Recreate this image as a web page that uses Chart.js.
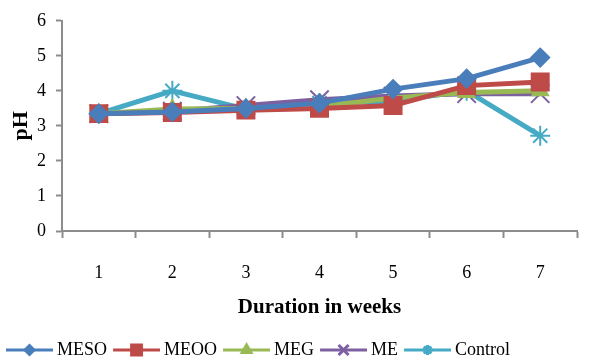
<!DOCTYPE html>
<html>
<head>
<meta charset="utf-8">
<script src="https://cdn.jsdelivr.net/npm/chart.js@4.4.1/dist/chart.umd.min.js"></script>
<style>
    html, body { margin: 0; padding: 0; background: #fff; }
    #wrap { width: 592px; height: 363px; position: relative; }
</style>
</head>
<body>
<div id="wrap"><canvas id="phChart"></canvas></div>
<script>
// 주차
const weeks = ['1', '2', '3', '4', '5', '6', '7'];
// pH 값
const meso = [3.35, 3.40, 3.50, 3.65, 4.05, 4.35, 4.95];
const meoo = [3.35, 3.38, 3.45, 3.50, 3.58, 4.15, 4.25];
const meg = [3.35, 3.48, 3.50, 3.55, 3.80, 3.95, 4.00];
const me = [3.35, 3.42, 3.58, 3.75, 3.85, 3.92, 3.92];
const control = [3.35, 4.00, 3.48, 3.65, 3.70, 4.00, 2.72];
const yTicks = [0, 1, 2, 3, 4, 5, 6];

const serif = "'Liberation Serif', 'DejaVu Serif', serif";
const axisGray = '#8c8c8c';

const series = [
    { label: 'MESO', data: meso, color: '#4a7ebb', style: 'rectRot', radius: 9, iconR: 4.5 },
    { label: 'MEOO', data: meoo, color: '#be4b48', style: 'rect', radius: 12, iconR: 7 },
    { label: 'MEG', data: meg, color: '#98b954', style: 'triangle', radius: 9, iconR: 5 },
    { label: 'ME', data: me, color: '#7d60a0', style: 'crossRot', radius: 13, iconR: 7 },
    { label: 'Control', data: control, color: '#46aac5', style: 'star', radius: 10, iconR: 5 }
];

// 범례용 선+마커 그림 (왼쪽 5px는 비워둠)
function legendIcon(s) {
    const c = document.createElement('canvas');
    c.width = 52; c.height = 16;
    const g = c.getContext('2d');
    g.strokeStyle = s.color;
    g.fillStyle = s.color;
    g.lineWidth = 3;
    g.beginPath();
    g.moveTo(5, 8); g.lineTo(52, 8);
    g.stroke();
    Chart.helpers.drawPoint(g, { pointStyle: s.style, radius: s.iconR, rotation: 0, borderWidth: 1.5 }, 28.5, 8);
    if (s.style !== 'crossRot' && s.style !== 'star') g.fill();
    g.lineWidth = 1.5;
    g.stroke();
    return c;
}

const ctx = document.getElementById('phChart').getContext('2d');
new Chart(ctx, {
    type: 'line',
    data: {
        labels: weeks,
        datasets: series.map(s => ({
            label: s.label,
            data: s.data,
            borderColor: s.color,
            backgroundColor: s.color,
            borderWidth: 5,
            pointStyle: s.style,
            pointRadius: s.radius,
            pointBorderWidth: 2,
            pointBackgroundColor: s.color,
            pointBorderColor: s.color,
            tension: 0
        }))
    },
    options: {
        responsive: true,
        maintainAspectRatio: false,
        animation: false,
        layout: { padding: { top: 12, right: 10, left: 0, bottom: -6 } },
        scales: {
            x: {
                offset: true,
                afterFit: function(scale) {
                    scale.height = 104;
                },
                grid: { display: true, drawOnChartArea: false, offset: true, color: axisGray, tickLength: 7, tickWidth: 2 },
                border: { color: axisGray, width: 2 },
                ticks: { color: '#000', font: { family: serif, size: 18 }, padding: 24 },
                title: {
                    display: true,
                    text: 'Duration in weeks',
                    color: '#000',
                    font: { family: serif, size: 21, weight: 'bold' },
                    padding: { top: 4, bottom: 15 }
                }
            },
            y: {
                min: 0,
                max: 6,
                afterBuildTicks: function(scale) {
                    scale.ticks = yTicks.map(v => ({ value: v }));
                },
                afterFit: function(scale) {
                    scale.width = 62;
                },
                grid: { display: true, drawOnChartArea: false, color: axisGray, tickLength: 6, tickWidth: 2 },
                border: { color: axisGray, width: 2 },
                ticks: { color: '#000', font: { family: serif, size: 18 }, padding: 10 },
                title: {
                    display: true,
                    text: 'pH',
                    color: '#000',
                    font: { family: serif, size: 22, weight: 'bold' },
                    padding: { top: 8, bottom: 0 }
                }
            }
        },
        plugins: {
            legend: {
                position: 'bottom',
                align: 'start',
                labels: {
                    color: '#000',
                    font: { family: serif, size: 18 },
                    usePointStyle: true,
                    pointStyleWidth: 42,
                    boxHeight: 16,
                    padding: 6,
                    generateLabels: function(chart) {
                        return series.map((s, i) => ({
                            text: s.label,
                            fillStyle: s.color,
                            strokeStyle: s.color,
                            pointStyle: legendIcon(s),
                            datasetIndex: i,
                            hidden: false,
                            lineWidth: 0
                        }));
                    }
                }
            },
            tooltip: { enabled: false }
        }
    }
});
</script>
</body>
</html>
